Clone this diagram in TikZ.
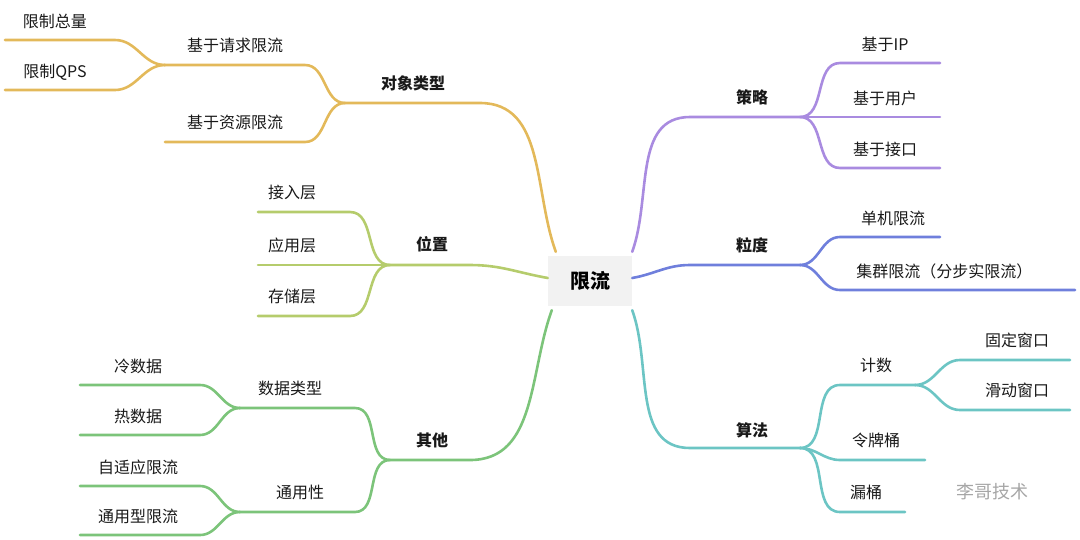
\documentclass[tikz,border=0pt]{standalone}
\usepackage{fontspec}
\setmainfont{Noto Sans CJK SC}
\usetikzlibrary{positioning}
\definecolor{clyellow}{HTML}{E3B95A}
\definecolor{clolive}{HTML}{B5CC6C}
\definecolor{clgreen}{HTML}{7CC47A}
\definecolor{clpurple}{HTML}{A98BE0}
\definecolor{clblue}{HTML}{6F7FDC}
\definecolor{clteal}{HTML}{6CC5C4}
\tikzset{
  branch/.style={line width=2.6pt, line cap=round},
  label/.style={inner sep=0pt, text=black!90, font=\fontsize{16}{18}\selectfont, anchor=base},
  topic/.style={label, font=\fontsize{16}{18}\selectfont\bfseries}
}
\begin{document}
\begin{tikzpicture}[x=1pt,y=-1pt]
  \useasboundingbox (0,0) rectangle (1080,539);
  % centre
  \node[fill=black!5, minimum width=84pt, minimum height=50pt,
        font=\fontsize{20}{22}\selectfont\bfseries] (root) at (590,281) {限流};
  % right: strategy
  \begin{scope}[every path/.style={branch, clpurple}]
    \coordinate (s0) at (690,117); \coordinate (s1) at (800,117);
    \draw (root.north east) ++(0,-4) coordinate (rs) to[out=70,in=180] (s0) -- (s1);
    \node[topic] (strat) at (752,103) {策略};
    \foreach \n/\t/\y in {ip/基于IP/63, user/基于用户/117, api/基于接口/168}{
      \draw (s1) to[out=0,in=180] (840,\y) coordinate (\n a) -- (940,\y);
      \node[label] (\n) at (885,\y-13) {\t};
    }
  \end{scope}
  % right: granularity
  \begin{scope}[every path/.style={branch, clblue}]
    \coordinate (g0) at (690,265); \coordinate (g1) at (800,265);
    \draw (root.east) ++(0,-3) to[out=10,in=180] (g0) -- (g1);
    \node[topic] (gran) at (752,251) {粒度};
    \draw (g1) to[out=0,in=180] (840,237) -- (940,237);
    \node[label] (single) at (893,224) {单机限流};
    \draw (g1) to[out=0,in=180] (840,290) -- (1075,290);
    \node[label, anchor=base west] (cluster) at (855,277) {集群限流（分步实限流）};
  \end{scope}
  % right: algorithm
  \begin{scope}[every path/.style={branch, clteal}]
    \coordinate (a0) at (690,448); \coordinate (a1) at (800,448);
    \draw (root.south east) ++(0,4) to[out=-70,in=180] (a0) -- (a1);
    \node[topic] (algo) at (752,436) {算法};
    \coordinate (c1) at (915,385);
    \draw (a1) to[out=0,in=180] (840,385) -- (c1);
    \node[label] (count) at (876,371) {计数};
    \draw (c1) to[out=0,in=180] (960,360) -- (1070,360);
    \node[label] (fixed) at (1017,346) {固定窗口};
    \draw (c1) to[out=0,in=180] (960,410) -- (1070,410);
    \node[label] (slide) at (1017,396) {滑动窗口};
    \draw (a1) to[out=0,in=180] (840,460) -- (925,460);
    \node[label] (token) at (876,446) {令牌桶};
    \draw (a1) to[out=0,in=180] (840,512) -- (905,512);
    \node[label] (leaky) at (866,498) {漏桶};
  \end{scope}
  % left: object type
  \begin{scope}[every path/.style={branch, clyellow}]
    \coordinate (o0) at (480,103); \coordinate (o1) at (345,103);
    \draw (root.north west) ++(8,-4) to[out=110,in=0] (o0) -- (o1);
    \node[topic] (obj) at (413,89) {对象类型};
    \coordinate (q1) at (165,65);
    \draw (o1) to[out=180,in=0] (305,65) -- (q1);
    \node[label] (req) at (235,51) {基于请求限流};
    \draw (o1) to[out=180,in=0] (305,142) -- (165,142);
    \node[label] (res) at (235,128) {基于资源限流};
    \draw (q1) to[out=180,in=0] (115,40) -- (5,40);
    \node[label] (total) at (55,27) {限制总量};
    \draw (q1) to[out=180,in=0] (115,90) -- (5,90);
    \node[label] (qps) at (55,77) {限制QPS};
  \end{scope}
  % left: position
  \begin{scope}[every path/.style={branch, clolive}]
    \coordinate (p0) at (470,265); \coordinate (p1) at (390,265);
    \draw (root.west) ++(0,-3) to[out=170,in=0] (p0) -- (p1);
    \node[topic] (pos) at (432,250) {位置};
    \foreach \n/\t/\y in {access/接入层/212, app/应用层/265, store/存储层/316}{
      \draw (p1) to[out=180,in=0] (350,\y) -- (258,\y);
      \node[label] (\n) at (292,\y-14) {\t};
    }
  \end{scope}
  % left: other
  \begin{scope}[every path/.style={branch, clgreen}]
    \coordinate (e0) at (470,460); \coordinate (e1) at (390,460);
    \draw (root.south west) ++(4,4) to[out=-110,in=0] (e0) -- (e1);
    \node[topic] (other) at (432,446) {其他};
    \coordinate (d1) at (240,408); \coordinate (u1) at (240,512);
    \draw (e1) to[out=180,in=0] (355,408) -- (d1);
    \node[label] (dtype) at (290,394) {数据类型};
    \draw (e1) to[out=180,in=0] (355,512) -- (u1);
    \node[label] (general) at (300,498) {通用性};
    \draw (d1) to[out=180,in=0] (200,385) -- (80,385);
    \node[label] (cold) at (138,372) {冷数据};
    \draw (d1) to[out=180,in=0] (200,435) -- (80,435);
    \node[label] (hot) at (138,422) {热数据};
    \draw (u1) to[out=180,in=0] (200,486) -- (80,486);
    \node[label] (adapt) at (138,473) {自适应限流};
    \draw (u1) to[out=180,in=0] (200,535) -- (80,535);
    \node[label] (gtype) at (138,522) {通用型限流};
  \end{scope}
  % watermark
  \node[label, text=black!35, font=\fontsize{18}{20}\selectfont] (mark) at (992,498) {李哥技术};
\end{tikzpicture}
\end{document}
